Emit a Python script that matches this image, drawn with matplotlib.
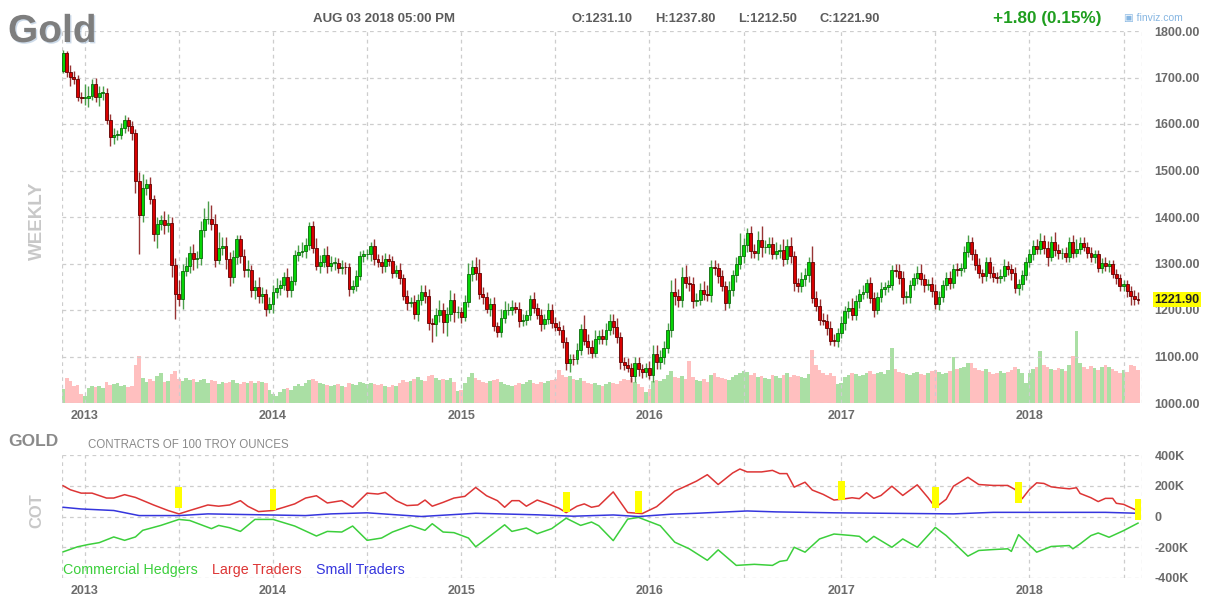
import numpy as np
import pandas as pd
import matplotlib
matplotlib.use('Agg')
import matplotlib.pyplot as plt
import matplotlib.patheffects as pe

plt.rcParams['font.family'] = ['Liberation Sans', 'DejaVu Sans']

# weekly gold futures, weeks ending Friday 2012-11-23 .. 2018-08-03
first_open = 1715.0
close_2012 = [1752, 1712, 1702, 1696, 1657, 1656]
close_2013 = [1656, 1661, 1687, 1658, 1667, 1667, 1609, 1573, 1576, 1577, 1592, 1608, 1596,
              1581, 1477, 1405, 1462, 1470, 1438, 1364, 1386, 1393, 1383, 1387, 1297, 1234,
              1223, 1284, 1295, 1322, 1310, 1312, 1371, 1395, 1395, 1386, 1308, 1333, 1338,
              1309, 1272, 1315, 1352, 1316, 1287, 1287, 1243, 1250, 1231, 1235, 1203, 1213]
close_2014 = [1238, 1248, 1253, 1270, 1244, 1263, 1318, 1324, 1326, 1340, 1380, 1334, 1295,
              1303, 1318, 1295, 1301, 1302, 1290, 1293, 1292, 1246, 1252, 1274, 1316, 1320,
              1320, 1337, 1309, 1303, 1294, 1310, 1305, 1280, 1287, 1268, 1231, 1216, 1218,
              1192, 1222, 1238, 1231, 1171, 1169, 1190, 1201, 1175, 1191, 1222, 1195, 1196]
close_2015 = [1186, 1217, 1277, 1293, 1279, 1234, 1227, 1203, 1213, 1165, 1153, 1183, 1199,
              1201, 1206, 1203, 1176, 1179, 1189, 1224, 1205, 1190, 1169, 1180, 1201, 1173,
              1164, 1158, 1131, 1085, 1095, 1094, 1113, 1160, 1134, 1121, 1108, 1138, 1145,
              1137, 1156, 1177, 1163, 1142, 1088, 1081, 1076, 1057, 1085, 1074, 1066, 1076]
close_2016 = [1061, 1105, 1089, 1098, 1118, 1158, 1239, 1230, 1222, 1272, 1259, 1255, 1220,
              1222, 1243, 1234, 1232, 1293, 1290, 1273, 1252, 1214, 1243, 1275, 1298, 1316,
              1340, 1366, 1327, 1323, 1350, 1335, 1336, 1341, 1321, 1327, 1328, 1310, 1338,
              1316, 1257, 1251, 1266, 1275, 1304, 1225, 1208, 1178, 1177, 1161, 1134, 1133, 1151]
close_2017 = [1173, 1197, 1205, 1190, 1220, 1234, 1238, 1257, 1226, 1201, 1229, 1245, 1249,
              1254, 1287, 1284, 1268, 1228, 1228, 1254, 1268, 1280, 1266, 1254, 1256, 1241,
              1212, 1228, 1254, 1269, 1258, 1289, 1285, 1291, 1325, 1346, 1320, 1297, 1279,
              1274, 1303, 1280, 1272, 1269, 1274, 1294, 1288, 1280, 1248, 1256, 1275, 1303]
close_2018 = [1320, 1338, 1332, 1349, 1333, 1315, 1347, 1329, 1322, 1323, 1313, 1347, 1323,
              1332, 1345, 1336, 1323, 1314, 1320, 1291, 1302, 1294, 1298, 1278, 1268, 1251,
              1255, 1241, 1231, 1223, 1221.9]

# wick lengths above / below the body, in dollars
up_2012 = [8, 5, 15, 12, 10, 12]
dn_2012 = [5, 10, 20, 10, 8, 10]
up_2013 = [30, 20, 10, 12, 15, 15, 10, 12, 15, 10, 10, 12, 8, 10, 8, 20, 30, 12, 15, 10, 15, 12,
           20, 20, 12, 15, 30, 15, 20, 15, 20, 15, 20, 25, 39, 30, 20, 35, 20, 20, 15, 15, 10,
           10, 15, 20, 10, 15, 20, 15, 10, 15]
dn_2013 = [15, 20, 10, 10, 20, 15, 10, 20, 15, 10, 10, 12, 10, 15, 25, 84, 15, 15, 10, 15, 30,
           15, 20, 15, 25, 54, 15, 20, 10, 15, 25, 20, 15, 15, 10, 15, 15, 10, 15, 20, 21, 15,
           15, 15, 15, 15, 15, 20, 15, 15, 15, 10]
up_2014 = [15, 20, 12, 12, 20, 10, 12, 15, 20, 15, 10, 12, 20, 15, 15, 20, 15, 12, 10, 15, 10,
           10, 12, 12, 10, 10, 12, 10, 15, 12, 15, 12, 10, 12, 10, 15, 10, 12, 10, 15, 12, 15,
           15, 15, 12, 15, 20, 15, 15, 20, 15, 12]
dn_2014 = [20, 12, 15, 10, 15, 15, 10, 12, 10, 15, 10, 12, 10, 15, 10, 15, 12, 15, 10, 12, 15,
           15, 10, 12, 10, 12, 10, 15, 12, 10, 15, 12, 10, 12, 10, 12, 10, 15, 10, 12, 15, 12,
           15, 15, 38, 25, 15, 25, 30, 15, 20, 12]
up_2015 = [10, 15, 25, 14, 20, 30, 15, 12, 12, 15, 10, 20, 20, 15, 15, 12, 15, 12, 12, 8, 15,
           10, 12, 12, 15, 12, 12, 12, 10, 12, 10, 10, 15, 10, 30, 15, 15, 20, 12, 15, 15, 15,
           15, 20, 10, 10, 15, 10, 15, 15, 10, 10]
dn_2015 = [15, 10, 10, 15, 15, 10, 15, 10, 15, 10, 12, 10, 12, 10, 12, 10, 12, 10, 12, 10, 12,
           10, 15, 10, 10, 12, 10, 12, 12, 13, 18, 12, 10, 10, 10, 15, 12, 10, 12, 10, 12, 10,
           15, 12, 15, 10, 10, 11, 12, 15, 12, 10]
up_2016 = [15, 20, 20, 15, 15, 15, 25, 30, 15, 20, 25, 15, 15, 15, 15, 20, 20, 15, 15, 12, 12,
           10, 20, 12, 15, 50, 15, 11, 15, 15, 20, 30, 15, 15, 15, 20, 15, 25, 15, 20, 10, 12,
           15, 15, 10, 33, 15, 15, 15, 15, 15, 15, 10]
dn_2016 = [10, 15, 15, 15, 15, 10, 15, 20, 15, 15, 12, 15, 15, 12, 12, 12, 12, 15, 15, 15, 12,
           15, 10, 12, 15, 10, 15, 15, 15, 12, 15, 20, 12, 15, 12, 12, 15, 15, 12, 15, 16, 12,
           12, 15, 15, 10, 10, 10, 10, 15, 10, 10, 12]
up_2017 = [15, 12, 15, 20, 12, 12, 15, 10, 15, 12, 10, 15, 12, 10, 10, 12, 15, 15, 12, 10, 12,
           15, 20, 12, 10, 15, 15, 12, 10, 12, 15, 10, 12, 10, 12, 16, 10, 12, 15, 10, 12, 10,
           15, 10, 15, 15, 12, 10, 12, 10, 12, 10]
dn_2017 = [12, 15, 15, 12, 12, 15, 10, 12, 12, 15, 10, 12, 12, 10, 12, 12, 12, 15, 12, 12, 12,
           12, 12, 15, 12, 12, 10, 12, 10, 12, 12, 10, 12, 12, 10, 10, 12, 12, 10, 15, 12, 12,
           12, 12, 10, 12, 12, 15, 12, 15, 12, 10]
up_2018 = [12, 12, 15, 17, 12, 15, 12, 20, 12, 10, 12, 10, 15, 20, 12, 12, 10, 12, 10, 10, 10,
           12, 10, 10, 10, 10, 10, 10, 10, 12, 15]
dn_2018 = [10, 12, 12, 12, 12, 20, 10, 12, 12, 12, 10, 10, 12, 10, 12, 10, 12, 10, 12, 10, 12,
           10, 12, 10, 12, 10, 10, 12, 20, 12, 9]

# weekly volume (relative units)
vol_2012 = [140, 250, 220, 170, 180, 90]
vol_2013 = [70, 150, 170, 160, 170, 150, 210, 180, 190, 200, 170, 180, 160, 170, 380, 470, 250,
            210, 240, 220, 270, 300, 210, 220, 290, 320, 240, 220, 250, 230, 240, 210, 230, 240,
            200, 230, 220, 190, 210, 200, 210, 230, 200, 190, 210, 200, 220, 200, 220, 210, 200, 130]
vol_2014 = [90, 70, 110, 140, 150, 130, 170, 190, 170, 200, 230, 240, 220, 200, 190, 180, 170,
            180, 190, 170, 160, 200, 190, 180, 210, 200, 190, 200, 190, 180, 190, 170, 160, 180,
            170, 200, 230, 210, 220, 240, 260, 230, 220, 270, 280, 250, 230, 240, 230, 250, 210, 120]
vol_2015 = [130, 200, 260, 300, 250, 230, 210, 200, 220, 230, 240, 210, 190, 180, 170, 180, 200,
            190, 210, 230, 200, 190, 210, 200, 220, 230, 240, 330, 280, 260, 270, 240, 230, 250,
            220, 200, 190, 200, 180, 170, 190, 210, 200, 190, 220, 240, 230, 250, 210, 190, 160, 110]
vol_2016 = [140, 220, 230, 220, 240, 280, 320, 260, 250, 270, 240, 420, 260, 230, 220, 240, 210,
            280, 300, 260, 250, 240, 230, 260, 280, 300, 320, 310, 280, 300, 260, 270, 250, 240,
            280, 270, 250, 280, 300, 260, 280, 270, 260, 250, 290, 530, 380, 330, 300, 280, 300,
            270, 190]
vol_2017 = [200, 260, 280, 300, 290, 270, 280, 300, 320, 290, 300, 310, 290, 330, 550, 340, 310,
            300, 290, 280, 300, 310, 290, 280, 300, 320, 330, 310, 290, 300, 320, 460, 340, 350,
            360, 400, 400, 350, 330, 320, 340, 310, 290, 300, 320, 300, 310, 330, 360, 340, 300, 200]
vol_2018 = [300, 340, 360, 520, 380, 360, 340, 330, 350, 340, 320, 380, 470, 720, 400, 360, 340,
            370, 350, 330, 360, 380, 360, 340, 320, 300, 330, 310, 380, 370, 330]

# COT net positions (thousand contracts), sampled by week number
large_wk = [0, 2, 5, 8, 12, 14, 17, 20, 25, 29, 32, 35, 40, 43, 46, 49, 51, 54, 58, 61, 64, 67,
            70, 73, 77, 80, 84, 87, 89, 92, 95, 98, 100, 102, 105, 108, 111, 114, 117, 120, 122,
            124, 126, 128, 131, 134, 137, 139, 142, 144, 146, 148, 152, 156, 160, 164, 169, 172,
            175, 178, 181, 185, 187, 189, 193, 196, 198, 200, 202, 205, 207, 210, 213, 215, 218,
            220, 222, 224, 226, 229, 232, 236, 239, 241, 244, 246, 250, 253, 257, 261, 263, 265,
            267, 269, 271, 273, 275, 278, 280, 281, 284, 286, 288, 290, 291, 293, 297]
large = [200, 174, 152, 152, 120, 120, 142, 124, 75, 39, 17, 39, 75, 67, 75, 103, 67, 32, 39, 60,
         82, 120, 135, 88, 103, 60, 152, 146, 157, 103, 71, 75, 107, 67, 92, 120, 131, 189, 135,
         103, 60, 103, 103, 67, 107, 82, 54, 25, 67, 82, 60, 69, 160, 26, 19, 64, 165, 197, 230,
         272, 208, 283, 309, 290, 290, 300, 279, 279, 191, 223, 172, 144, 107, 112, 122, 116, 155,
         118, 137, 197, 137, 206, 122, 58, 112, 197, 255, 208, 202, 202, 176, 116, 176, 219, 215,
         193, 187, 180, 187, 150, 122, 97, 118, 118, 86, 79, 36]
comm_wk = [0, 4, 7, 10, 14, 17, 20, 22, 27, 32, 35, 41, 43, 46, 49, 53, 58, 64, 70, 73, 77, 80,
           84, 88, 91, 96, 100, 102, 105, 108, 112, 114, 117, 122, 124, 128, 131, 135, 139, 143,
           146, 148, 152, 156, 159, 165, 169, 173, 178, 181, 186, 191, 196, 198, 200, 202, 205,
           209, 213, 218, 220, 222, 224, 229, 232, 236, 241, 244, 250, 253, 257, 261, 262, 264,
           269, 273, 278, 279, 281, 284, 286, 289, 293, 297]
comm = [-230, -197, -182, -170, -133, -155, -133, -90, -58, -19, -26, -79, -58, -73, -97, -19,
        -19, -62, -127, -97, -101, -62, -155, -140, -101, -58, -90, -47, -101, -105, -140, -197,
        -144, -54, -97, -75, -112, -79, -11, -58, -36, -60, -157, -17, -6, -60, -167, -210, -285,
        -217, -318, -311, -318, -292, -285, -200, -232, -146, -114, -124, -129, -167, -129, -200,
        -146, -200, -71, -124, -258, -221, -215, -210, -227, -118, -232, -195, -189, -210, -178,
        -124, -107, -135, -92, -43]
small_wk = [0, 5, 14, 21, 32, 40, 67, 74, 84, 99, 114, 131, 141, 152, 159, 168, 175, 189, 197,
            213, 246, 257, 288, 297]
small = [60, 49, 39, 6, 6, 17, 6, 17, 24, 0, 21, 11, 2, 10, 0, 15, 21, 36, 30, 24, 17, 27, 27, 21]

# yellow signal marks on the COT panel (week, bottom, top)
mark_wk = [32, 58, 139, 159, 215, 241, 264, 297]
mark_lo = [54, 45, 32, 26, 105, 54, 86, -21]
mark_hi = [189, 178, 157, 165, 234, 191, 223, 112]

closes = np.array(close_2012 + close_2013 + close_2014 + close_2015 + close_2016 + close_2017 + close_2018, float)
up_w = np.array(up_2012 + up_2013 + up_2014 + up_2015 + up_2016 + up_2017 + up_2018, float)
dn_w = np.array(dn_2012 + dn_2013 + dn_2014 + dn_2015 + dn_2016 + dn_2017 + dn_2018, float)
volume = np.array(vol_2012 + vol_2013 + vol_2014 + vol_2015 + vol_2016 + vol_2017 + vol_2018, float)
opens = np.concatenate([[first_open], closes[:-1]])
highs = np.maximum(opens, closes) + up_w
lows = np.minimum(opens, closes) - dn_w

n = len(closes)
dates = pd.date_range('2012-11-23', periods=n, freq='W-FRI')
x = np.arange(n)
rising = closes >= opens

year_idx = [i for i in range(1, n) if dates[i].year != dates[i - 1].year]
half_idx = [i for i in range(1, n) if dates[i].month == 7 and dates[i - 1].month == 6]

W, H = 1214, 606
def box(l, t, r, b):
    return [l / W, 1 - b / H, (r - l) / W, (b - t) / H]

GRID = dict(color='#cdcdcd', linestyle=(0, (3, 3)), linewidth=0.9)
TICK = '#6b6b6b'
XLIM = (-0.3, 298.1)

fig = plt.figure(figsize=(W / 100, H / 100), dpi=100)

# ---- price panel
ax = fig.add_axes(box(62, 31, 1142, 403))
axv = ax.twinx()
ax.set_zorder(2)
ax.patch.set_visible(False)

axv.bar(x, volume, width=1.0, color=np.where(rising, '#aadfa4', '#ffbfbf'), linewidth=0)
axv.set_ylim(0, volume.max() / 0.194)
axv.set_yticks([])

body_lo = np.minimum(opens, closes)
body_h = np.maximum(np.abs(closes - opens), 1.5)
ax.vlines(x[rising], lows[rising], highs[rising], color='#4a9e4a', linewidth=1.0, zorder=3)
ax.vlines(x[~rising], lows[~rising], highs[~rising], color='#983434', linewidth=1.0, zorder=3)
ax.bar(x[rising], body_h[rising], bottom=body_lo[rising], width=0.8,
       color='#06d406', edgecolor='#0a6a0a', linewidth=0.6, zorder=4)
ax.bar(x[~rising], body_h[~rising], bottom=body_lo[~rising], width=0.8,
       color='#d80000', edgecolor='#5e0000', linewidth=0.6, zorder=4)

ax.set_xlim(*XLIM)
ax.set_ylim(1000, 1800)
ax.set_yticks(np.arange(1000, 1801, 100))
ax.set_yticklabels([f'{v:.2f}' for v in np.arange(1000, 1801, 100)])

# ---- COT panel
ax2 = fig.add_axes(box(62, 455, 1142, 578))
ax2.plot(np.array(comm_wk), comm, color='#3ccf3c', linewidth=1.1, zorder=3)
ax2.plot(np.array(large_wk), large, color='#dd3535', linewidth=1.1, zorder=3)
ax2.plot(np.array(small_wk), small, color='#3535dd', linewidth=1.1, zorder=3)
ax2.bar(mark_wk, np.array(mark_hi) - np.array(mark_lo), bottom=mark_lo, width=1.9,
        color='#ffff00', linewidth=0, zorder=4)
ax2.set_xlim(*XLIM)
ax2.set_ylim(-400, 400)
ax2.set_yticks([-400, -200, 0, 200, 400])
ax2.set_yticklabels(['-400K', '-200K', '0', '200K', '400K'])

for a in (ax, ax2):
    for s in a.spines.values():
        s.set_visible(False)
    a.set_xticks(year_idx)
    a.set_xticklabels([str(dates[i].year) for i in year_idx])
    a.set_xticks(half_idx, minor=True)
    a.grid(True, which='both', **GRID)
    a.set_axisbelow(True)
    a.yaxis.tick_right()
    a.tick_params(axis='both', which='both', length=0, colors=TICK, labelsize=9)
    a.tick_params(axis='y', pad=9)
    a.tick_params(axis='x', pad=5)
    for lab in a.get_xticklabels() + a.get_yticklabels():
        lab.set_fontweight('bold')
    for xe in XLIM:
        a.axvline(xe, **GRID)
for s in axv.spines.values():
    s.set_visible(False)

# last price tag
ax.annotate('1221.90', xy=(1.0, closes[-1]), xycoords=('axes fraction', 'data'),
            xytext=(12, 0), textcoords='offset pixels', va='center', ha='left',
            fontsize=9, fontweight='bold', color='#222222', annotation_clip=False,
            bbox=dict(boxstyle='square,pad=0.12', fc='#ffff00', ec='none'))

# legend of the COT lines
for xp, txt, col in [(0.001, 'Commercial Hedgers', '#3ccf3c'),
                     (0.139, 'Large Traders', '#dd3535'),
                     (0.235, 'Small Traders', '#3535dd')]:
    ax2.text(xp, 0.065, txt, transform=ax2.transAxes, color=col, fontsize=10.3, va='center')

# header texts
g = fig.text(8 / W, 1 - 42 / H, 'Gold', fontsize=28, fontweight='bold', color='#7e7e7e', va='baseline')
g.set_path_effects([pe.withSimplePatchShadow(offset=(1, -1), shadow_rgbFace='#9bb7d4', alpha=0.5)])
fig.text(313 / W, 1 - 22 / H, 'AUG 03 2018 05:00 PM', fontsize=9.5, fontweight='bold', color='#5c5c5c', va='baseline')
for xp, txt in [(572, 'O:1231.10'), (655, 'H:1237.80'), (738, 'L:1212.50'), (820, 'C:1221.90')]:
    fig.text(xp / W, 1 - 22 / H, txt, fontsize=9.3, fontweight='bold', color='#5c5c5c', va='baseline')
fig.text(993 / W, 1 - 23 / H, '+1.80 (0.15%)', fontsize=12.3, fontweight='bold', color='#1f9e1f', va='baseline')
fig.text(1124 / W, 1 - 21 / H, '\u25a3 finviz.com', fontsize=7.5, color='#86b6e2', va='baseline')

fig.text(37 / W, 1 - 221 / H, 'WEEKLY', rotation=90, fontsize=13.5, fontweight='bold',
         color='#c8c8c8', ha='center', va='center')
fig.text(37 / W, 1 - 511 / H, 'COT', rotation=90, fontsize=12, fontweight='bold',
         color='#c8c8c8', ha='center', va='center')
fig.text(8 / W, 1 - 442 / H, 'GOLD', fontsize=12.5, fontweight='bold', color='#8a8a8a', va='center')
fig.text(88 / W, 1 - 445 / H, 'CONTRACTS OF 100 TROY OUNCES', fontsize=8.3, color='#8a8a8a', va='center')

fig.savefig('out.png', dpi=100, facecolor='white')
